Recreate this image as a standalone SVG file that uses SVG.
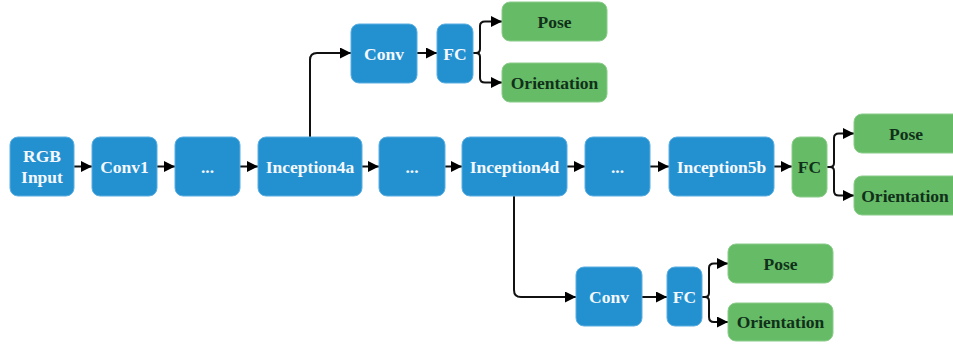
<svg xmlns="http://www.w3.org/2000/svg" width="953" height="345" viewBox="0 0 953 345">
<defs>
<marker id="ah" viewBox="0 0 10 10" refX="10" refY="5" markerWidth="5.5" markerHeight="5.5" orient="auto" markerUnits="strokeWidth">
<path d="M0,0 L10,5 L0,10 z" fill="#000"/>
</marker>
<style>
.b{fill:#2390D0;stroke:#5BAEE2;stroke-width:1}
.g{fill:#66BB66;stroke:#8ACC8A;stroke-width:1}
.tb{font-family:"Liberation Serif","DejaVu Serif",serif;font-weight:bold;font-size:17.5px;fill:#F4F8FC;text-anchor:middle;dominant-baseline:central}
.tg{font-family:"Liberation Serif","DejaVu Serif",serif;font-weight:bold;font-size:17.5px;fill:#10301A;text-anchor:middle;dominant-baseline:central}
.c{fill:none;stroke:#111;stroke-width:2;marker-end:url(#ah)}
</style>
</defs>
<rect width="953" height="345" fill="#fff"/>
<g id="connectors">
<path class="c" d="M74,166.5 H92"/>
<path class="c" d="M157,166.5 H175"/>
<path class="c" d="M240,166.5 H258"/>
<path class="c" d="M362,166.5 H379"/>
<path class="c" d="M445,166.5 H462"/>
<path class="c" d="M567,166.5 H585"/>
<path class="c" d="M650,166.5 H669"/>
<path class="c" d="M774,166.5 H792"/>
<path class="c" d="M310,137 V60 Q310,53 317,53 H351"/>
<path class="c" d="M417,53 H437"/>
<path class="c" d="M514,196 V290 Q514,297 521,297 H576"/>
<path class="c" d="M642,297 H667"/>
<path class="c" d="M473,53 H476 Q480,53 480,49 V26 Q480,21.5 485,21.5 H502"/>
<path class="c" d="M473,53 H476 Q480,53 480,57 V78 Q480,82.5 485,82.5 H502"/>
<path class="c" d="M827,167 H830 Q834,167 834,163 V138 Q834,133.5 839,133.5 H854"/>
<path class="c" d="M827,167 H830 Q834,167 834,171 V191 Q834,195.5 839,195.5 H854"/>
<path class="c" d="M702,297 H705 Q709,297 709,293 V268 Q709,263.5 714,263.5 H728"/>
<path class="c" d="M702,297 H705 Q709,297 709,301 V317 Q709,322 714,322 H728"/>
</g>
<g id="rgb"><rect class="b" x="10" y="137" width="64" height="59" rx="8"/><text class="tb" x="42" y="156">RGB</text><text class="tb" x="42" y="177">Input</text></g>
<g id="conv1"><rect class="b" x="92" y="137" width="65" height="59" rx="8"/><text class="tb" x="124.5" y="166.5">Conv1</text></g>
<g id="dots1"><rect class="b" x="175" y="137" width="65" height="59" rx="8"/><text class="tb" x="207.5" y="166.5">...</text></g>
<g id="inc4a"><rect class="b" x="258" y="137" width="104" height="59" rx="8"/><text class="tb" x="310" y="166.5">Inception4a</text></g>
<g id="dots2"><rect class="b" x="379" y="137" width="66" height="59" rx="8"/><text class="tb" x="412" y="166.5">...</text></g>
<g id="inc4d"><rect class="b" x="462" y="137" width="105" height="59" rx="8"/><text class="tb" x="514.5" y="166.5">Inception4d</text></g>
<g id="dots3"><rect class="b" x="585" y="137" width="65" height="59" rx="8"/><text class="tb" x="617.5" y="166.5">...</text></g>
<g id="inc5b"><rect class="b" x="669" y="137" width="105" height="59" rx="8"/><text class="tb" x="721.5" y="166.5">Inception5b</text></g>
<g id="fc-main"><rect class="g" x="792" y="137" width="35" height="60" rx="8"/><text class="tg" x="809.5" y="167">FC</text></g>
<g id="pose-main"><rect class="g" x="854" y="114" width="108" height="39" rx="8"/><text class="tg" x="906" y="133.5">Pose</text></g>
<g id="orient-main"><rect class="g" x="854" y="176" width="108" height="39" rx="8"/><text class="tg" x="905" y="195.5">Orientation</text></g>
<g id="conv-top"><rect class="b" x="351" y="24" width="66" height="59" rx="8"/><text class="tb" x="384" y="53.5">Conv</text></g>
<g id="fc-top"><rect class="b" x="437" y="24" width="36" height="59" rx="8"/><text class="tb" x="455" y="53.5">FC</text></g>
<g id="pose-top"><rect class="g" x="502" y="2" width="105" height="39" rx="8"/><text class="tg" x="554.5" y="21.5">Pose</text></g>
<g id="orient-top"><rect class="g" x="502" y="63" width="105" height="39" rx="8"/><text class="tg" x="554.5" y="82.5">Orientation</text></g>
<g id="conv-bot"><rect class="b" x="576" y="267" width="66" height="59" rx="8"/><text class="tb" x="609" y="296.5">Conv</text></g>
<g id="fc-bot"><rect class="b" x="667" y="267" width="35" height="59" rx="8"/><text class="tb" x="684.5" y="296.5">FC</text></g>
<g id="pose-bot"><rect class="g" x="728" y="244" width="105" height="39" rx="8"/><text class="tg" x="780.5" y="263.5">Pose</text></g>
<g id="orient-bot"><rect class="g" x="728" y="303" width="105" height="38" rx="8"/><text class="tg" x="780.5" y="322">Orientation</text></g>
</svg>
